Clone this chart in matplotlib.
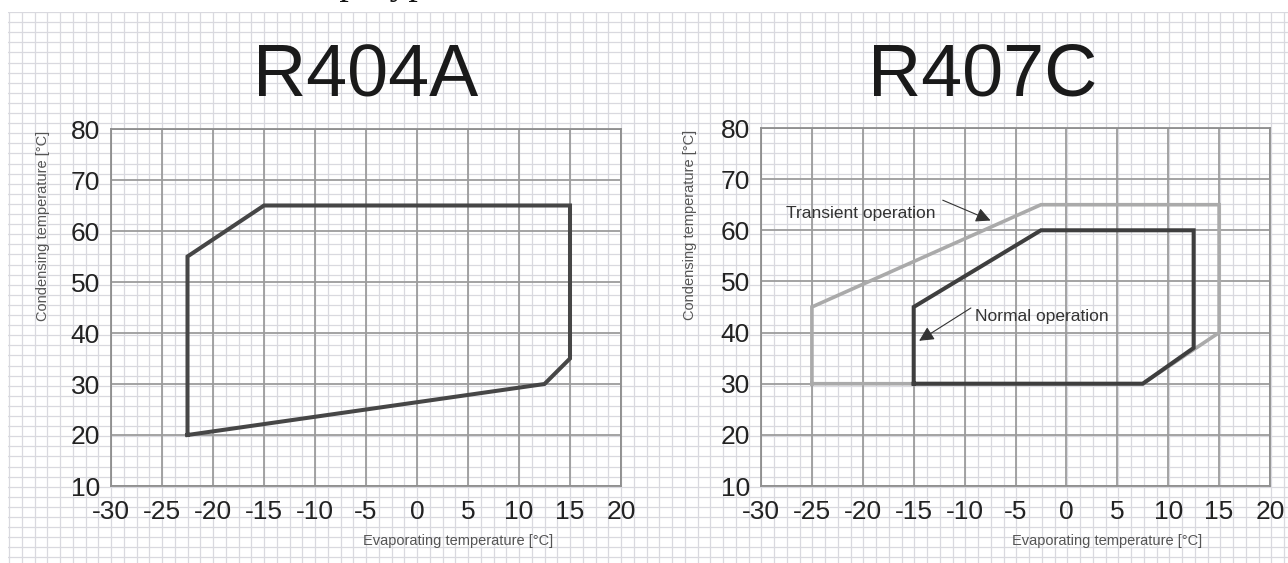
import numpy as np
import matplotlib.pyplot as plt

plt.rcParams['font.family'] = ['Liberation Sans', 'DejaVu Sans']

# R404A operating envelope
r404a_evap = [-22.5, -22.5, -15, 15, 15, 12.5, -22.5]
r404a_cond = [20, 55, 65, 65, 35, 30, 20]

# R407C envelopes
transient_evap = [-25, -25, -2.5, 15, 15, 7.5, -25]
transient_cond = [30, 45, 65, 65, 40, 30, 30]
normal_evap = [-15, -15, -2.5, 12.5, 12.5, 7.5, -15]
normal_cond = [30, 45, 60, 60, 37, 30, 30]

x_ticks = [-30, -25, -20, -15, -10, -5, 0, 5, 10, 15, 20]
y_ticks = [10, 20, 30, 40, 50, 60, 70, 80]

W, H = 1288, 563
fig = plt.figure(figsize=(W / 100, H / 100), dpi=100)

# graph paper behind everything
bg = fig.add_axes([8 / W, 0, 1 - 8 / W, 1 - 12 / H], zorder=0)
bg.set_xlim(8, W)
bg.set_ylim(H, 12)
bg.set_xticks(np.arange(111 % 12.75, W, 12.75))
bg.set_yticks(np.arange(129 % 10.2, H, 10.2))
bg.grid(True, color='#d9d9df', lw=0.9)
bg.tick_params(length=0, labelbottom=False, labelleft=False)
for s in bg.spines.values():
    s.set_visible(False)

# line of page text above the figure, only its descenders are inside
fig.text(246 / W, 1 + 6 / H, 'температурные', family='Liberation Serif',
         fontsize=27, va='baseline', ha='left', color='#111')


def setup(ax, title, tx):
    ax.set_xlim(-30, 20)
    ax.set_ylim(10, 80)
    ax.set_xticks(x_ticks)
    ax.set_yticks(y_ticks)
    ax.set_xticklabels([str(v) for v in x_ticks])
    ax.grid(True, color='#9c9c9c', lw=1.3)
    ax.set_axisbelow(True)
    ax.tick_params(length=0, labelsize=19, colors='#222')
    ax.tick_params(axis='y', pad=8)
    ax.tick_params(axis='x', pad=10)
    for s in ax.spines.values():
        s.set_color('#8e8e8e')
        s.set_linewidth(1.3)
    ax.set_title(title, fontsize=53, x=tx, y=1.09, pad=0, color='#1a1a1a')
    ax.set_xlabel('Evaporating temperature [°C]', fontsize=10.5, color='#555')
    ax.set_ylabel('Condensing temperature [°C]', fontsize=10.5, color='#555', va='center')
    ax.xaxis.set_label_coords(0.68, -0.135)


ax1 = fig.add_axes([111 / W, 77 / H, 510 / W, 357 / H], zorder=2, facecolor='none')
setup(ax1, 'R404A', 0.5)
ax1.yaxis.set_label_coords(-0.133, 0.728)
ax1.plot(r404a_evap, r404a_cond, color='#464646', lw=2.9, solid_joinstyle='miter')

ax2 = fig.add_axes([761 / W, 77 / H, 509 / W, 358 / H], zorder=2, facecolor='none')
setup(ax2, 'R407C', 0.436)
ax2.yaxis.set_label_coords(-0.139, 0.73)
ax2.plot(transient_evap, transient_cond, color='#aaaaaa', lw=2.6, solid_joinstyle='miter')
ax2.plot(normal_evap, normal_cond, color='#3e3e3e', lw=2.9, solid_joinstyle='miter')

arrow = dict(arrowstyle='-|>', color='#333', lw=0.8, mutation_scale=22)
ax2.annotate('', xy=(-7.2, 61.7), xytext=(-12.4, 66.1), arrowprops=arrow)
ax2.text(-27.5, 63.3, 'Transient operation', fontsize=12.5, color='#333', va='center', ha='left')
ax2.annotate('', xy=(-14.7, 38.1), xytext=(-9.15, 45.1), arrowprops=arrow)
ax2.text(-9.0, 43.1, 'Normal operation', fontsize=12.5, color='#333', va='center', ha='left')

fig.savefig('out.png', dpi=100)
